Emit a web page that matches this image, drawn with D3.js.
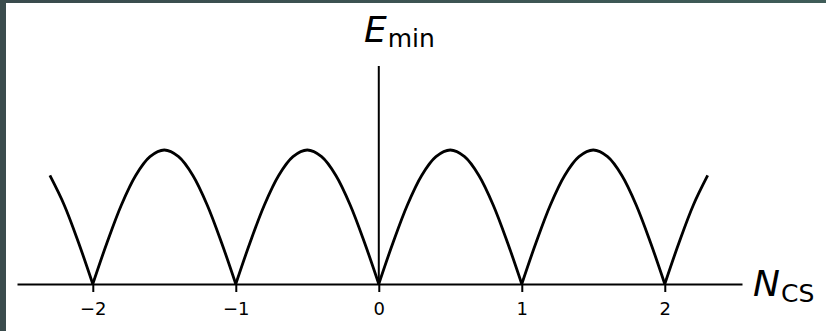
<!DOCTYPE html>
<html>
<head>
<meta charset="utf-8">
<script src="https://cdn.jsdelivr.net/npm/d3@7/dist/d3.min.js"></script>
<style>
  html, body { margin: 0; padding: 0; background: #ffffff; }
  svg { display: block; }
</style>
</head>
<body>
<script>
// Sampled curve: N_CS positions and the minimal energy at each one
const nValues = [-2.3, -2.2, -2.1, -2.0, -1.9, -1.8, -1.7, -1.6, -1.5, -1.4, -1.3, -1.2, -1.1,
                 -1.0, -0.9, -0.8, -0.7, -0.6, -0.5, -0.4, -0.3, -0.2, -0.1,
                 0.0, 0.1, 0.2, 0.3, 0.4, 0.5, 0.6, 0.7, 0.8, 0.9,
                 1.0, 1.1, 1.2, 1.3, 1.4, 1.5, 1.6, 1.7, 1.8, 1.9,
                 2.0, 2.1, 2.2, 2.3];
const eValues = [0.81, 0.59, 0.31, 0.00, 0.31, 0.59, 0.81, 0.95, 1.00, 0.95, 0.81, 0.59, 0.31,
                 0.00, 0.31, 0.59, 0.81, 0.95, 1.00, 0.95, 0.81, 0.59, 0.31,
                 0.00, 0.31, 0.59, 0.81, 0.95, 1.00, 0.95, 0.81, 0.59, 0.31,
                 0.00, 0.31, 0.59, 0.81, 0.95, 1.00, 0.95, 0.81, 0.59, 0.31,
                 0.00, 0.31, 0.59, 0.81];
const tickValues = [-2, -1, 0, 1, 2];
const xDomain = [-2.53, 2.54];
const yDomain = [0, 1.627];

const W = 826, H = 331;
const svg = d3.select("body").append("svg").attr("width", W).attr("height", H);

// Dark frame strips along the top and left edges
const defs = svg.append("defs");
const grad = defs.append("linearGradient").attr("id", "frameGrad")
  .attr("x1", "0%").attr("x2", "100%").attr("y1", "0%").attr("y2", "0%");
grad.append("stop").attr("offset", "0%").attr("stop-color", "#3a4b4d");
grad.append("stop").attr("offset", "100%").attr("stop-color", "#3f5c58");
svg.append("rect").attr("x", 0).attr("y", 0).attr("width", W).attr("height", 3).attr("fill", "url(#frameGrad)");
svg.append("rect").attr("x", 0).attr("y", 0).attr("width", 6).attr("height", H).attr("fill", "#3b4c4d");

const x = d3.scaleLinear().domain(xDomain).range([17, 742]);
const y = d3.scaleLinear().domain(yDomain).range([284, 66]);

// Horizontal axis with ticks below
const xAxis = d3.axisBottom(x).tickValues(tickValues).tickSize(8).tickSizeOuter(0).tickPadding(10)
  .tickFormat(d3.format("d"));
const gx = svg.append("g").attr("transform", `translate(0,${y(0)})`).call(xAxis);
gx.attr("font-size", null).attr("font-family", null);
gx.select(".domain").attr("stroke", "#000").attr("stroke-width", 2);
gx.selectAll(".tick line").attr("stroke", "#000").attr("stroke-width", 2);
gx.selectAll(".tick text")
  .attr("fill", "#000")
  .attr("font-family", "'DejaVu Sans', sans-serif")
  .attr("font-size", 18);

// Vertical axis through the origin
svg.append("line")
  .attr("x1", x(0)).attr("x2", x(0))
  .attr("y1", y(0)).attr("y2", y(yDomain[1]))
  .attr("stroke", "#000").attr("stroke-width", 2);

// Split the curve into arches at its zeros so the cusps stay sharp
const pts = nValues.map((n, i) => ({ n, e: eValues[i] }));
const arches = [];
let current = [];
pts.forEach(p => {
  current.push(p);
  if (p.e === 0 && current.length > 1) {
    arches.push(current);
    current = [p];
  }
});
if (current.length > 1) arches.push(current);

const line = d3.line().x(d => x(d.n)).y(d => y(d.e)).curve(d3.curveCatmullRom.alpha(0.5));
svg.append("g").selectAll("path").data(arches).join("path")
  .attr("d", line)
  .attr("fill", "none")
  .attr("stroke", "#000")
  .attr("stroke-width", 2.8)
  .attr("stroke-linejoin", "round")
  .attr("stroke-linecap", "butt");

// Axis titles
const eLabel = svg.append("text")
  .attr("x", 364).attr("y", 42)
  .style("font-family", "'DejaVu Sans', sans-serif")
  .attr("fill", "#000");
eLabel.append("tspan").style("font-style", "italic").style("font-size", "36px").text("E");
eLabel.append("tspan").attr("dx", 1).attr("dy", 5).style("font-size", "25px").text("min");

const nLabel = svg.append("text")
  .attr("x", 753).attr("y", 296)
  .style("font-family", "'DejaVu Sans', sans-serif")
  .attr("fill", "#000");
nLabel.append("tspan").style("font-style", "italic").style("font-size", "36px").text("N");
nLabel.append("tspan").attr("dx", 1).attr("dy", 6).style("font-size", "25px").text("CS");
</script>
</body>
</html>
